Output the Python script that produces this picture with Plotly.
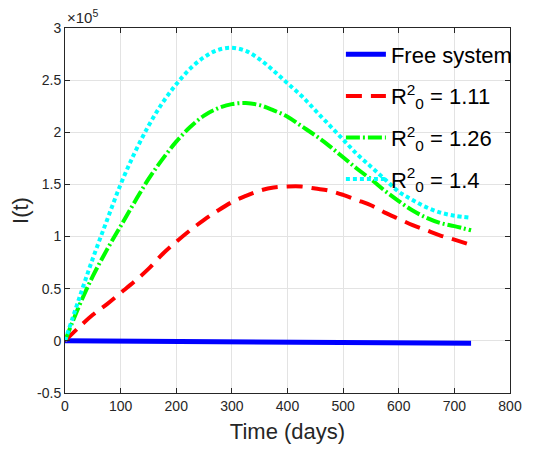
import plotly.graph_objects as go

# Time axis (days) and infected values I(t), in units of 10^5
days = [0, 25, 50, 75, 100, 125, 150, 175, 200, 225, 250, 275, 300, 325, 350,
        375, 400, 425, 450, 475, 500, 525, 550, 575, 600, 625, 650, 675, 700, 730]

free_days = [0, 365, 730]
free_system = [0.0, -0.012, -0.022]

r0_111 = [0, 0.13, 0.25, 0.35, 0.46, 0.57, 0.69, 0.83, 0.95, 1.06, 1.16, 1.25, 1.33, 1.39, 1.44,
          1.47, 1.48, 1.48, 1.46, 1.44, 1.40, 1.35, 1.30, 1.23, 1.17, 1.11, 1.06, 1.01, 0.97, 0.92]
r0_126 = [0, 0.33, 0.62, 0.87, 1.10, 1.33, 1.55, 1.74, 1.91, 2.05, 2.16, 2.23, 2.27, 2.28, 2.26,
          2.21, 2.15, 2.06, 1.97, 1.87, 1.76, 1.65, 1.55, 1.44, 1.34, 1.25, 1.18, 1.13, 1.10, 1.06]
r0_140 = [0, 0.40, 0.79, 1.15, 1.50, 1.80, 2.06, 2.28, 2.46, 2.61, 2.72, 2.79, 2.81, 2.78, 2.70,
          2.59, 2.47, 2.35, 2.21, 2.07, 1.93, 1.79, 1.67, 1.55, 1.43, 1.35, 1.28, 1.23, 1.20, 1.18]

x_ticks = [0, 100, 200, 300, 400, 500, 600, 700, 800]
y_ticks = [-0.5, 0, 0.5, 1, 1.5, 2, 2.5, 3]
y_tick_labels = ["-0.5", "0", "0.5", "1", "1.5", "2", "2.5", "3"]

fig = go.Figure()
fig.add_trace(go.Scatter(x=free_days, y=free_system, mode="lines", name="Free system",
                         legendgroup="a",
                         line=dict(color="#0000ff", width=5)))
fig.add_trace(go.Scatter(x=days, y=r0_111, mode="lines", name="R<sup>2</sup><sub>0</sub> = 1.11",
                         legendgroup="b",
                         line=dict(color="#ff0000", width=4, dash="16px,9px", shape="spline")))
fig.add_trace(go.Scatter(x=days, y=r0_126, mode="lines", name="R<sup>2</sup><sub>0</sub> = 1.26",
                         legendgroup="c",
                         line=dict(color="#00ff00", width=4, dash="14px,3px,2px,3px", shape="spline")))
fig.add_trace(go.Scatter(x=days, y=r0_140, mode="lines", name="R<sup>2</sup><sub>0</sub> = 1.4",
                         legendgroup="d",
                         line=dict(color="#00ffff", width=4, dash="4px,3px", shape="spline")))

axis_color = "#262626"
grid_color = "#e3e3e3"
fig.update_layout(
    width=542, height=441,
    margin=dict(l=57, r=40, t=20, b=56, autoexpand=False),
    paper_bgcolor="white", plot_bgcolor="white",
    font=dict(family="Liberation Sans, Arial, sans-serif", color=axis_color),
    showlegend=True,
    legend=dict(x=0.62, y=0.985, xanchor="left", yanchor="top",
                bgcolor="rgba(0,0,0,0)", borderwidth=0,
                font=dict(size=22, color="#000000"), itemwidth=40,
                tracegroupgap=10),
    xaxis=dict(range=[0, 800], tickvals=x_ticks, showgrid=True, gridcolor=grid_color,
               showline=True, linecolor=axis_color, linewidth=1, mirror="ticks",
               ticks="inside", ticklen=5, tickcolor=axis_color, zeroline=False,
               automargin=False,
               tickfont=dict(size=14, color=axis_color),
               title=dict(text="Time (days)", font=dict(size=22, color=axis_color), standoff=10)),
    yaxis=dict(range=[-0.5, 3], tickvals=y_ticks, ticktext=y_tick_labels, showgrid=True,
               gridcolor=grid_color, showline=True, linecolor=axis_color, linewidth=1,
               mirror="ticks", ticks="inside", ticklen=5, tickcolor=axis_color, zeroline=False,
               automargin=False,
               tickfont=dict(size=14, color=axis_color),
               title=dict(text="I(t)", font=dict(size=22, color=axis_color), standoff=8)),
)
fig.add_annotation(text="\u00d710<sup>5</sup>", xref="paper", yref="paper", x=0.0, y=1.0,
                   xanchor="left", yanchor="bottom", showarrow=False,
                   font=dict(size=15, color=axis_color))

fig.write_html("out.html")
